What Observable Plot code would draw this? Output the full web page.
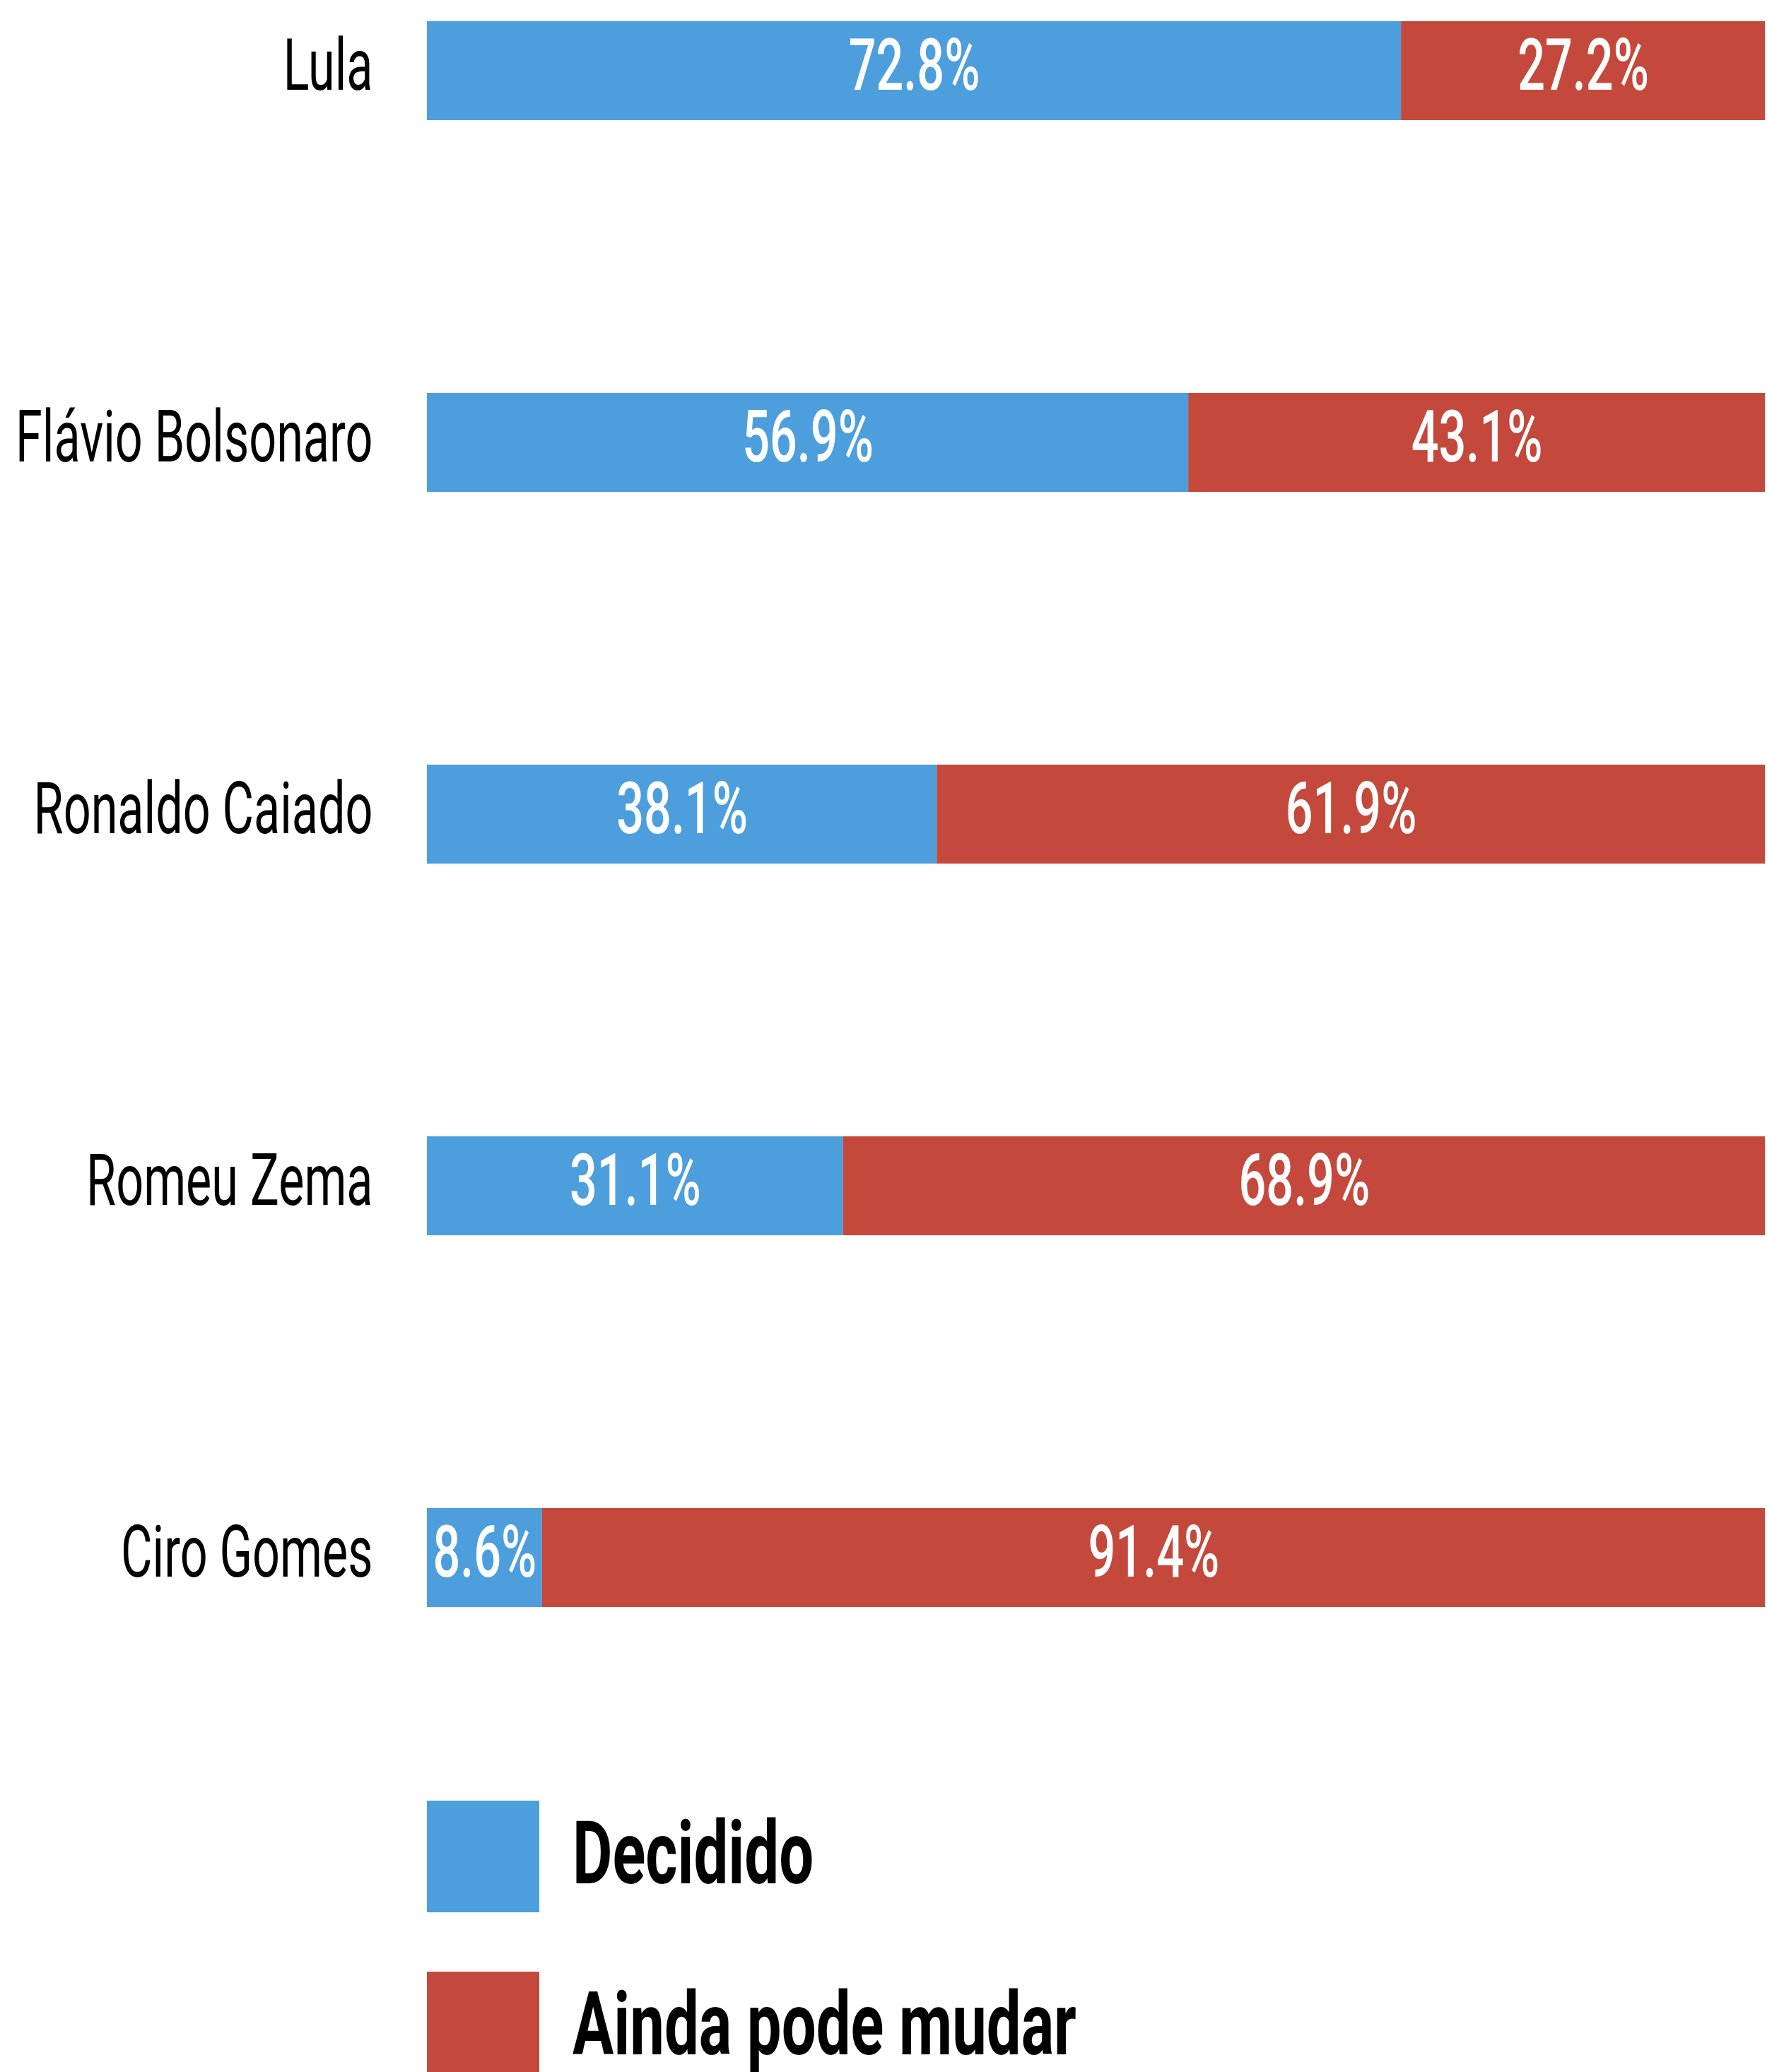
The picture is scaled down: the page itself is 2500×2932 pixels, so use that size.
<!DOCTYPE html>
<html>
<head>
<meta charset="utf-8">
<script src="https://cdn.jsdelivr.net/npm/d3@7"></script>
<script src="https://cdn.jsdelivr.net/npm/@observablehq/plot@0.6"></script>
<style>
  html, body { margin: 0; padding: 0; background: #ffffff; }
  body { width: 2500px; height: 2932px; overflow: hidden; font-family: Roboto, "Noto Sans", sans-serif; }
  #legend { margin-left: 604px; margin-top: 248px; }
  .item { display: flex; align-items: center; height: 158px; margin-bottom: 84px; }
  .sw { width: 159px; height: 158px; flex: none; }
  .lab { display: inline-block; margin-left: 47px; font-size: 124px; font-weight: 700; color: #000;
         transform: scaleX(0.70); transform-origin: left center; white-space: nowrap; line-height: 1; margin-top: -8px; }
</style>
</head>
<body>
<div id="chart"></div>
<div id="legend"></div>
<script>
const candidates = ["Lula", "Flávio Bolsonaro", "Ronaldo Caiado", "Romeu Zema", "Ciro Gomes"];
const decidido = [72.8, 56.9, 38.1, 31.1, 8.6];
const aindaPodeMudar = [27.2, 43.1, 61.9, 68.9, 91.4];
const seriesNames = ["Decidido", "Ainda pode mudar"];
const seriesColors = ["#4c9fdc", "#c4493c"];

const data = [];
candidates.forEach((c, i) => {
  data.push({candidate: c, status: seriesNames[0], value: decidido[i]});
  data.push({candidate: c, status: seriesNames[1], value: aindaPodeMudar[i]});
});

const plot = Plot.plot({
  width: 2500,
  height: 2300,
  marginLeft: 604,
  marginRight: 3,
  marginTop: 28,
  marginBottom: 24,
  style: {fontFamily: "Roboto, 'Noto Sans', sans-serif", fontSize: "100px", color: "#000", background: "#fff"},
  x: {domain: [0, 100], axis: null},
  y: {domain: candidates, paddingInner: 0.734, paddingOuter: 0, align: 0.5, label: null},
  color: {domain: seriesNames, range: seriesColors},
  marks: [
    Plot.barX(data, {x: "value", y: "candidate", fill: "status", order: seriesNames}),
    Plot.text(data, Plot.stackX({
      x: "value", y: "candidate", z: "status", order: seriesNames,
      text: d => d.value.toFixed(1) + "%",
      fill: "white", fontSize: 102, fontWeight: 500, dy: -6
    })),
    Plot.axisY({tickSize: 0, tickPadding: 77, fontSize: 102, dy: -6, label: null, fill: "#000"})
  ]
});

// condense all text horizontally (the reference uses a narrow typeface)
plot.querySelectorAll("text").forEach(t => {
  const tr = t.getAttribute("transform") || "";
  t.setAttribute("transform", tr + " scale(0.67,1)");
});
document.getElementById("chart").appendChild(plot);

const legend = document.getElementById("legend");
seriesNames.forEach((name, i) => {
  const item = document.createElement("div");
  item.className = "item";
  const sw = document.createElement("div");
  sw.className = "sw";
  sw.style.background = seriesColors[i];
  const lab = document.createElement("span");
  lab.className = "lab";
  lab.textContent = name;
  item.appendChild(sw);
  item.appendChild(lab);
  legend.appendChild(item);
});
</script>
</body>
</html>
